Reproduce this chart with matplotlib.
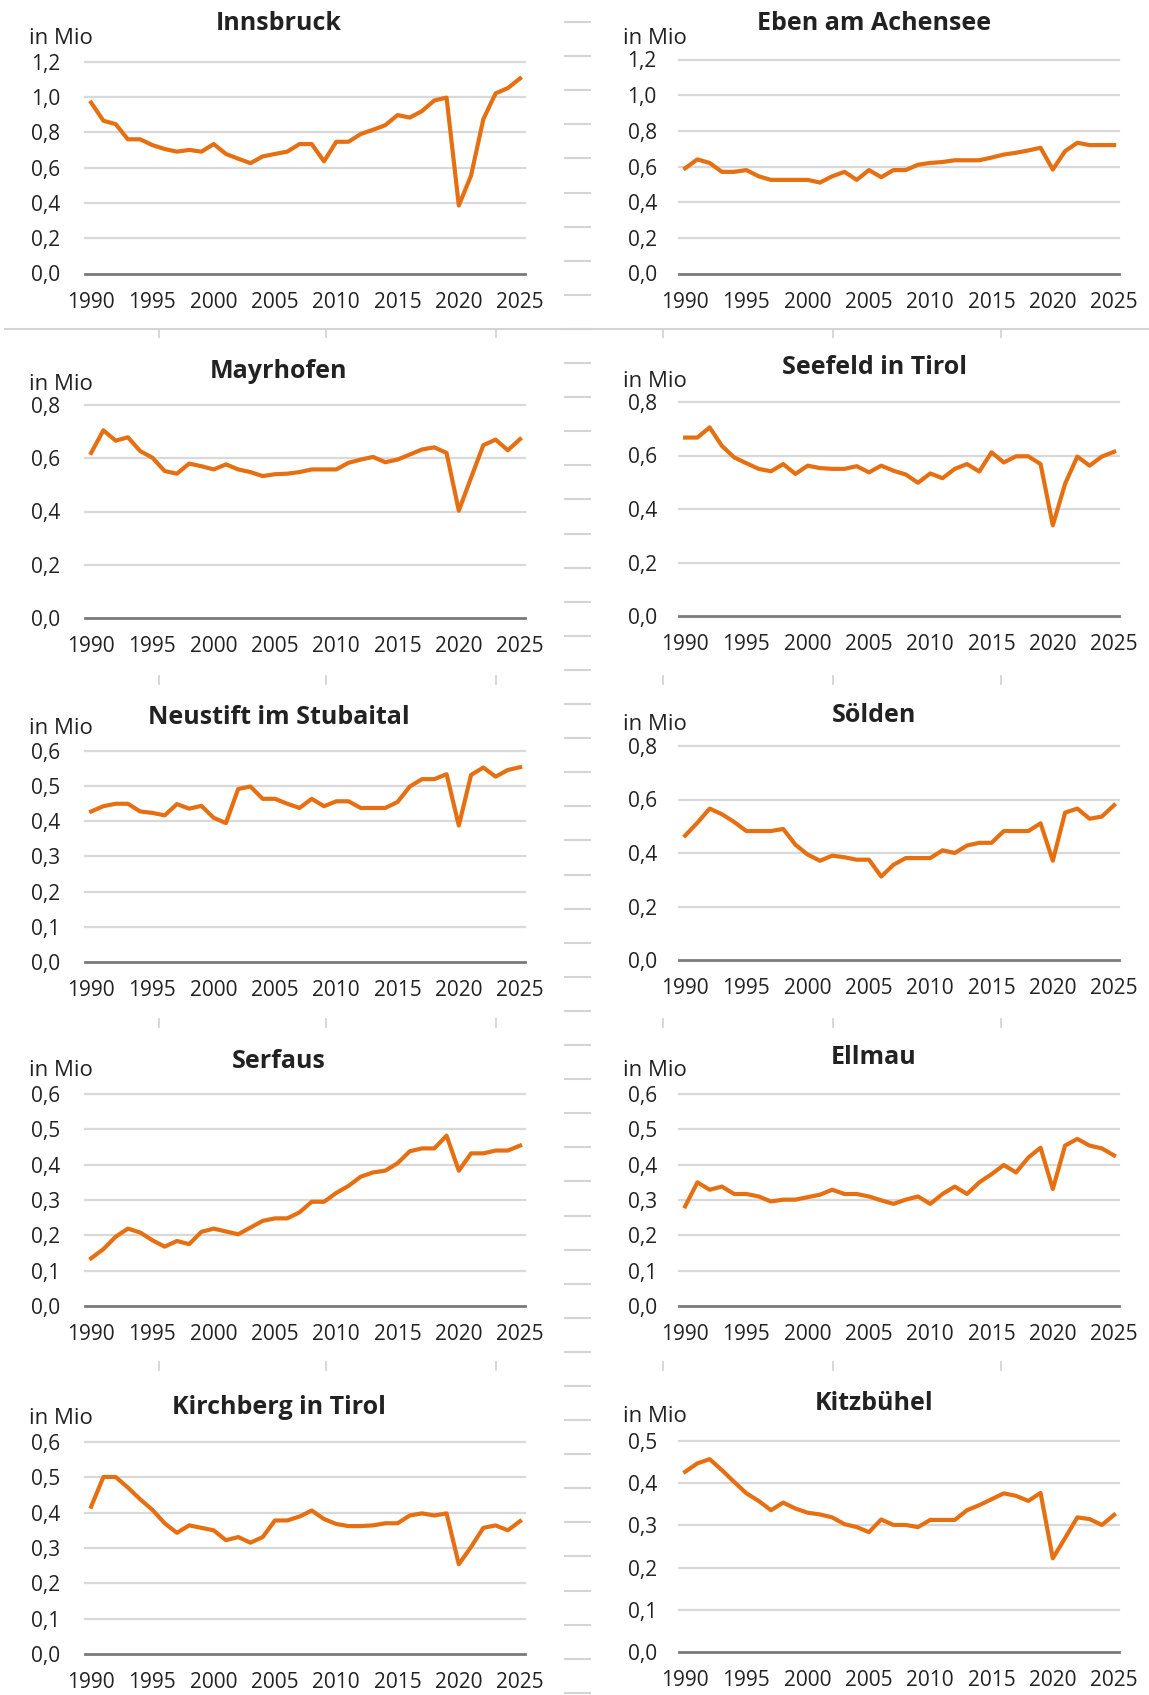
import matplotlib
matplotlib.use("Agg")
import matplotlib.pyplot as plt
from matplotlib.lines import Line2D

plt.rcParams['font.family'] = ['Open Sans', 'DejaVu Sans']

# ---------------- data (million overnight stays) ----------------
years = list(range(1990, 2026))
xtick_years = [1990, 1995, 2000, 2005, 2010, 2015, 2020, 2025]

innsbruck = [0.968, 0.865, 0.846, 0.76, 0.76, 0.727, 0.705, 0.69, 0.70, 0.69,
             0.733, 0.677, 0.65, 0.625, 0.663, 0.677, 0.69, 0.733, 0.733, 0.635,
             0.746, 0.746, 0.79, 0.814, 0.84, 0.897, 0.883, 0.92, 0.98, 0.996,
             0.385, 0.555, 0.874, 1.02, 1.05, 1.105]
eben = [0.59, 0.64, 0.62, 0.57, 0.57, 0.58, 0.545, 0.525, 0.525, 0.525,
        0.525, 0.51, 0.545, 0.57, 0.525, 0.58, 0.54, 0.58, 0.58, 0.61,
        0.62, 0.625, 0.635, 0.635, 0.635, 0.65, 0.667, 0.677, 0.69, 0.705,
        0.583, 0.686, 0.733, 0.72, 0.72, 0.72]
mayrhofen = [0.62, 0.705, 0.666, 0.679, 0.627, 0.602, 0.552, 0.542, 0.58, 0.57,
             0.558, 0.577, 0.558, 0.548, 0.533, 0.54, 0.542, 0.548, 0.558, 0.558,
             0.558, 0.583, 0.595, 0.605, 0.585, 0.595, 0.614, 0.633, 0.641, 0.62,
             0.403, 0.527, 0.649, 0.67, 0.63, 0.672]
seefeld = [0.667, 0.667, 0.705, 0.636, 0.593, 0.571, 0.55, 0.541, 0.568, 0.531,
           0.562, 0.553, 0.55, 0.55, 0.56, 0.537, 0.562, 0.543, 0.529, 0.498,
           0.533, 0.515, 0.55, 0.568, 0.54, 0.612, 0.574, 0.597, 0.597, 0.568,
           0.339, 0.494, 0.596, 0.562, 0.596, 0.614]
neustift = [0.428, 0.443, 0.45, 0.45, 0.428, 0.424, 0.417, 0.449, 0.436, 0.444,
            0.41, 0.395, 0.492, 0.499, 0.464, 0.464, 0.45, 0.438, 0.464, 0.443,
            0.457, 0.457, 0.438, 0.438, 0.438, 0.455, 0.499, 0.52, 0.52, 0.534,
            0.388, 0.532, 0.553, 0.527, 0.546, 0.554]
soelden = [0.465, 0.513, 0.566, 0.545, 0.516, 0.482, 0.482, 0.482, 0.49, 0.431,
           0.394, 0.371, 0.39, 0.384, 0.375, 0.375, 0.312, 0.356, 0.381, 0.381,
           0.381, 0.41, 0.40, 0.428, 0.438, 0.438, 0.482, 0.482, 0.482, 0.511,
           0.371, 0.551, 0.566, 0.528, 0.536, 0.579]
serfaus = [0.135, 0.161, 0.196, 0.219, 0.208, 0.186, 0.168, 0.184, 0.175, 0.21,
           0.219, 0.211, 0.203, 0.222, 0.241, 0.248, 0.248, 0.265, 0.295, 0.295,
           0.32, 0.34, 0.366, 0.378, 0.383, 0.404, 0.438, 0.446, 0.446, 0.482,
           0.383, 0.432, 0.432, 0.44, 0.44, 0.454]
ellmau = [0.282, 0.35, 0.329, 0.338, 0.317, 0.317, 0.31, 0.296, 0.301, 0.301,
          0.308, 0.315, 0.329, 0.317, 0.317, 0.31, 0.299, 0.289, 0.301, 0.31,
          0.289, 0.317, 0.338, 0.317, 0.35, 0.373, 0.399, 0.378, 0.42, 0.448,
          0.331, 0.454, 0.473, 0.454, 0.446, 0.426]
kirchberg = [0.417, 0.501, 0.501, 0.471, 0.438, 0.408, 0.37, 0.343, 0.364, 0.357,
             0.35, 0.322, 0.331, 0.315, 0.331, 0.378, 0.378, 0.389, 0.406, 0.382,
             0.368, 0.362, 0.362, 0.364, 0.37, 0.37, 0.392, 0.398, 0.392, 0.398,
             0.254, 0.303, 0.357, 0.364, 0.35, 0.376]
kitzbuehel = [0.427, 0.447, 0.457, 0.431, 0.403, 0.376, 0.358, 0.336, 0.354, 0.34,
              0.33, 0.326, 0.319, 0.303, 0.296, 0.284, 0.314, 0.301, 0.301, 0.296,
              0.313, 0.313, 0.313, 0.336, 0.348, 0.362, 0.376, 0.37, 0.358, 0.377,
              0.222, 0.27, 0.319, 0.315, 0.301, 0.325]

titles = ["Innsbruck", "Eben am Achensee", "Mayrhofen", "Seefeld in Tirol",
          "Neustift im Stubaital", "Sölden", "Serfaus", "Ellmau",
          "Kirchberg in Tirol", "Kitzbühel"]
series = [innsbruck, eben, mayrhofen, seefeld, neustift, soelden,
          serfaus, ellmau, kirchberg, kitzbuehel]
y_max = [1.2, 1.2, 0.8, 0.8, 0.6, 0.8, 0.6, 0.6, 0.6, 0.5]
y_step = [0.2, 0.2, 0.2, 0.2, 0.1, 0.2, 0.1, 0.1, 0.1, 0.1]
unit_label = "in Mio"

# ---------------- layout (pixels) ----------------
W, H = 1149, 1695
col_x = [(85, 525), (679, 1119)]
col_label_x = [29, 623]
col_center = [279, 874]
# per panel: (axes top, axes bottom, title y, unit y)
rows_px = [
    (61.6, 273.5, 24, 38.5), (59.5, 273.5, 24, 38.5),
    (405, 618, 371, 384.5), (402, 616, 368, 381.5),
    (751, 962, 717, 728.5), (746, 960, 715, 725),
    (1094, 1306, 1061, 1071), (1094, 1306, 1058, 1071),
    (1442, 1654, 1407, 1419), (1441, 1652, 1404, 1417),
]

LINE_COLOR = '#E66F12'
TEXT_COLOR = '#222222'
GRID_COLOR = '#d9d9d9'

fig = plt.figure(figsize=(W / 100, H / 100), dpi=100)


def fx(px):
    return px / W


def fy(py):
    return 1 - py / H


for i, (title, vals) in enumerate(zip(titles, series)):
    col = i % 2
    x0, x1 = col_x[col]
    top, bot, ty, uy = rows_px[i]
    ax = fig.add_axes([fx(x0), fy(bot), (x1 - x0) / W, (bot - top) / H])
    n = int(round(y_max[i] / y_step[i]))
    ticks = [round(k * y_step[i], 2) for k in range(n + 1)]
    ax.set_ylim(0, y_max[i])
    ax.set_xlim(1989.5, 2025.4)
    ax.set_yticks(ticks)
    ax.set_yticklabels([f"{t:.1f}".replace('.', ',') for t in ticks])
    ax.set_xticks(xtick_years)
    ax.set_xticklabels([str(y) for y in xtick_years])
    for s in ax.spines.values():
        s.set_visible(False)
    ax.tick_params(axis='both', length=0, labelsize=15, labelcolor=TEXT_COLOR)
    ax.tick_params(axis='y', pad=18 if col == 0 else 16)
    ax.tick_params(axis='x', pad=13)
    for t in ticks[1:]:
        ax.axhline(t, color=GRID_COLOR, lw=1.6, zorder=1, clip_on=False)
    ax.axhline(0, color='#7a7a7a', lw=2.0, zorder=2, clip_on=False)
    ax.plot(years, vals, color=LINE_COLOR, lw=3.0, zorder=3, clip_on=False,
            solid_joinstyle='round')
    fig.text(fx(col_center[col]), fy(ty), title, ha='center', va='center',
             fontsize=18, fontweight='bold', color=TEXT_COLOR)
    fig.text(fx(col_label_x[col]), fy(uy), unit_label, ha='left', va='center',
             fontsize=16, color=TEXT_COLOR)

# ---------------- decorative page elements ----------------
deco = '#d4d4d4'
fig.add_artist(Line2D([fx(5), fx(1149)], [fy(329), fy(329)], color=deco,
                      lw=1.5, transform=fig.transFigure))
for yb in [329, 676, 1019, 1362]:
    for xv in [159, 326, 496, 663, 833, 1001]:
        fig.add_artist(Line2D([fx(xv), fx(xv)], [fy(yb), fy(yb + 8)],
                              color=deco, lw=1.3, transform=fig.transFigure))
yd = 22.0
while yd < H - 2:
    fig.add_artist(Line2D([fx(565), fx(590)], [fy(yd), fy(yd)], color=deco,
                          lw=1.5, transform=fig.transFigure))
    yd += 34.1

fig.savefig("out.png", dpi=100, facecolor='white')
